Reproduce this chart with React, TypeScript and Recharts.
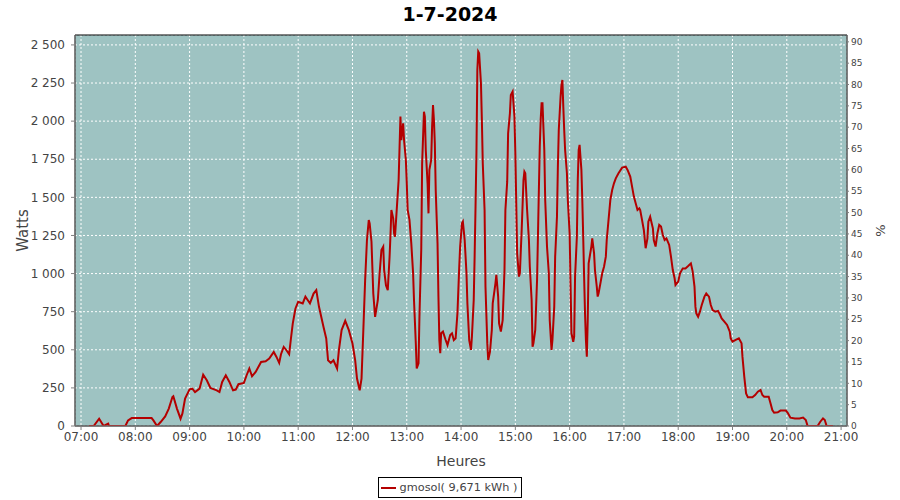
import React from 'react';
import {
  LineChart,
  Line,
  XAxis,
  YAxis,
  CartesianGrid,
  ReferenceArea,
  Label
} from 'recharts';

const title = '1-7-2024';
const seriesName = 'gmosol( 9,671 kWh )';

// heure de la mesure (HH:MM)
const times = [
  '07:09', '07:14', '07:20', '07:25', '07:30', '07:31', '07:49', '07:52', '07:56', '08:07',
  '08:18', '08:20', '08:24', '08:28', '08:33', '08:37', '08:41', '08:42', '08:46', '08:50',
  '08:52', '08:55', '09:00', '09:03', '09:06', '09:11', '09:15', '09:19', '09:23', '09:30',
  '09:33', '09:36', '09:40', '09:44', '09:48', '09:51', '09:54', '10:00', '10:03', '10:06',
  '10:09', '10:13', '10:19', '10:24', '10:28', '10:33', '10:36', '10:39', '10:41', '10:44',
  '10:47', '10:50', '10:52', '10:54', '10:57', '11:00', '11:05', '11:08', '11:13', '11:17',
  '11:20', '11:23', '11:28', '11:31', '11:33', '11:36', '11:39', '11:43', '11:45', '11:48',
  '11:52', '11:56', '12:00', '12:03', '12:05', '12:08', '12:10', '12:12', '12:14', '12:16',
  '12:18', '12:19', '12:21', '12:23', '12:25', '12:28', '12:30', '12:32', '12:34', '12:35',
  '12:37', '12:39', '12:41', '12:42', '12:43', '12:45', '12:46', '12:47', '12:49', '12:51',
  '12:53', '12:54', '12:56', '12:57', '12:59', '13:00', '13:01', '13:03', '13:05', '13:07',
  '13:08', '13:10', '13:11', '13:13', '13:14', '13:16', '13:17', '13:19', '13:20', '13:21',
  '13:23', '13:24', '13:25', '13:27', '13:28', '13:29', '13:30', '13:31', '13:32', '13:34',
  '13:35', '13:36', '13:37', '13:38', '13:40', '13:43', '13:45', '13:48', '13:50', '13:52',
  '13:54', '13:56', '13:58', '13:59', '14:01', '14:02', '14:04', '14:06', '14:07', '14:09',
  '14:11', '14:12', '14:14', '14:15', '14:16', '14:17', '14:18', '14:19', '14:20', '14:22',
  '14:23', '14:24', '14:26', '14:27', '14:29', '14:30', '14:32', '14:34', '14:35', '14:37',
  '14:38', '14:39', '14:41', '14:42', '14:44', '14:46', '14:48', '14:49', '14:51', '14:52',
  '14:54', '14:55', '14:57', '14:59', '15:00', '15:01', '15:02', '15:04', '15:05', '15:07',
  '15:09', '15:10', '15:11', '15:13', '15:15', '15:16', '15:18', '15:19', '15:20', '15:22',
  '15:24', '15:26', '15:27', '15:28', '15:29', '15:30', '15:32', '15:33', '15:35', '15:37',
  '15:38', '15:40', '15:41', '15:43', '15:44', '15:46', '15:47', '15:48', '15:50', '15:51',
  '15:52', '15:53', '15:54', '15:55', '15:57', '15:58', '16:00', '16:01', '16:02', '16:04',
  '16:05', '16:06', '16:08', '16:09', '16:10', '16:11', '16:13', '16:14', '16:15', '16:16',
  '16:17', '16:18', '16:19', '16:20', '16:21', '16:24', '16:25', '16:27', '16:28', '16:30',
  '16:31', '16:32', '16:34', '16:36', '16:38', '16:40', '16:41', '16:43', '16:45', '16:47',
  '16:49', '16:51', '16:54', '16:58', '17:02', '17:04', '17:07', '17:09', '17:11', '17:13',
  '17:15', '17:17', '17:18', '17:20', '17:22', '17:24', '17:26', '17:27', '17:29', '17:32',
  '17:33', '17:35', '17:37', '17:39', '17:41', '17:43', '17:45', '17:47', '17:50', '17:52',
  '17:54', '17:56', '17:57', '18:00', '18:02', '18:05', '18:08', '18:11', '18:14', '18:16',
  '18:18', '18:19', '18:20', '18:22', '18:24', '18:26', '18:29', '18:31', '18:34', '18:36',
  '18:38', '18:41', '18:44', '18:46', '18:48', '18:51', '18:54', '18:57', '18:58', '19:00',
  '19:03', '19:07', '19:10', '19:11', '19:13', '19:15', '19:17', '19:19', '19:22', '19:25',
  '19:28', '19:31', '19:33', '19:35', '19:38', '19:40', '19:42', '19:44', '19:46', '19:50',
  '19:53', '19:56', '19:59', '20:01', '20:04', '20:09', '20:14', '20:18', '20:21', '20:23',
  '20:29', '20:34', '20:37', '20:40', '20:42', '20:44', '20:51'
];

// puissance en Watts
const watts = [
  0, 0, 48, 0, 15, 0, 0, 37, 52, 52,
  52, 37, 0, 26, 63, 114, 190, 195, 114, 48,
  81, 180, 241, 245, 223, 245, 337, 300, 250, 234,
  223, 289, 333, 289, 234, 239, 274, 283, 333, 377,
  326, 355, 420, 425, 442, 486, 453, 414, 471, 519,
  497, 471, 574, 672, 771, 815, 804, 848, 804, 869,
  891, 782, 650, 574, 431, 414, 431, 377, 497, 629,
  690, 629, 541, 431, 311, 234, 311, 629, 957, 1220,
  1351, 1329, 1209, 869, 716, 825, 1001, 1154, 1176, 1023,
  924, 891, 1110, 1253, 1417, 1362, 1264, 1242, 1428, 1614,
  2030, 1876, 1986, 1876, 1745, 1592, 1417, 1352, 1198, 1002,
  827, 542, 378, 411, 717, 1155, 1723, 2062, 2030, 1811,
  1592, 1395, 1680, 1745, 1964, 2106, 2008, 1855, 1548, 1198,
  849, 564, 477, 608, 619, 564, 531, 597, 608, 564,
  575, 739, 1045, 1177, 1330, 1341, 1220, 1002, 805, 564,
  499, 586, 827, 1111, 1439, 1789, 2336, 2456, 2445, 2248,
  2008, 1723, 1417, 914, 542, 433, 488, 630, 805, 892,
  936, 991, 849, 674, 619, 695, 1023, 1417, 1603, 1920,
  2051, 2172, 2194, 2030, 1789, 1461, 1133, 980, 1002, 1286,
  1614, 1669, 1658, 1417, 1220, 1045, 827, 520, 542, 630,
  958, 1548, 1833, 2008, 2117, 2117, 1811, 1483, 1177, 1002,
  695, 499, 564, 783, 1111, 1373, 1701, 1942, 2161, 2237,
  2270, 2095, 1942, 1811, 1658, 1483, 1264, 936, 608, 553,
  586, 980, 1242, 1614, 1811, 1844, 1680, 1483, 1242, 980,
  739, 564, 455, 695, 1067, 1177, 1231, 1133, 1023, 914,
  849, 870, 936, 1002, 1045, 1111, 1220, 1352, 1483, 1548,
  1592, 1625, 1658, 1695, 1701, 1680, 1636, 1570, 1505, 1461,
  1417, 1428, 1417, 1352, 1286, 1166, 1231, 1341, 1373, 1297,
  1220, 1177, 1264, 1319, 1308, 1253, 1220, 1231, 1188, 1111,
  1023, 969, 925, 947, 1002, 1034, 1034, 1050, 1067, 1013,
  914, 783, 739, 717, 750, 794, 849, 870, 849, 794,
  761, 750, 755, 733, 706, 685, 663, 619, 575, 553,
  564, 575, 542, 455, 324, 214, 188, 188, 188, 203,
  225, 236, 203, 192, 192, 192, 149, 105, 87, 90,
  101, 101, 101, 87, 55, 50, 50, 55, 39, 0,
  0, 0, 28, 50, 39, 0, 0
];

const hourTicks = [7, 8, 9, 10, 11, 12, 13, 14, 15, 16, 17, 18, 19, 20, 21];
const wattTicks = [0, 250, 500, 750, 1000, 1250, 1500, 1750, 2000, 2250, 2500];
const pctTicks = [0, 5, 10, 15, 20, 25, 30, 35, 40, 45, 50, 55, 60, 65, 70, 75, 80, 85, 90];

const toHours = (s: string) => {
  const [h, m] = s.split(':').map(Number);
  return h + m / 60;
};

const data = times.map((t, i) => ({ t: toHours(t), w: watts[i] }));

const fmtHour = (v: number) => `${String(v).padStart(2, '0')}:00`;
const fmtWatts = (v: number) =>
  v >= 1000 ? `${Math.floor(v / 1000)} ${String(v % 1000).padStart(3, '0')}` : String(v);

const FONT = '"DejaVu Sans", sans-serif';
const X_DOMAIN: [number, number] = [6.889, 21.109];
const Y_DOMAIN: [number, number] = [0, 2565];

export default function App() {
  return (
    <div style={{ position: 'absolute', left: 0, top: 0, width: 900, height: 500, background: '#fff', fontFamily: FONT }}>
      <div style={{ position: 'absolute', top: 2, left: 0, width: 900, textAlign: 'center', fontSize: 19, fontWeight: 'bold', lineHeight: '24px', color: '#000' }}>
        {title}
      </div>
      <LineChart width={900} height={500} data={data} margin={{ top: 35, right: 0, bottom: 30, left: 0 }}>
        <CartesianGrid yAxisId="left" fill="#9EC3C2" stroke="#ffffff" strokeDasharray="2 2" />
        <XAxis
          dataKey="t"
          type="number"
          domain={X_DOMAIN}
          ticks={hourTicks}
          tickFormatter={fmtHour}
          allowDataOverflow
          height={44}
          tickSize={4}
          tickMargin={2}
          stroke="#808080"
          tick={{ fontSize: 12, fill: '#444', fontFamily: FONT }}
        >
          <Label value="Heures" position="insideBottom" offset={4} style={{ fontSize: 14, fill: '#444', fontFamily: FONT }} />
        </XAxis>
        <YAxis
          yAxisId="left"
          type="number"
          domain={Y_DOMAIN}
          ticks={wattTicks}
          tickFormatter={fmtWatts}
          allowDataOverflow
          width={75}
          tickSize={4}
          tickMargin={6}
          stroke="#808080"
          tick={{ fontSize: 12, fill: '#444', fontFamily: FONT }}
        >
          <Label value="Watts" angle={-90} position="center" dx={-15} style={{ fontSize: 15, fill: '#444', fontFamily: FONT }} />
        </YAxis>
        <YAxis
          yAxisId="right"
          orientation="right"
          type="number"
          domain={[0, 91.6]}
          ticks={pctTicks}
          allowDataOverflow
          width={53}
          tickSize={2}
          tickMargin={2}
          stroke="#808080"
          tick={{ fontSize: 9, fill: '#444', fontFamily: FONT }}
        >
          <Label value="%" angle={-90} position="center" dx={7} style={{ fontSize: 13, fill: '#444', fontFamily: FONT }} />
        </YAxis>
        <ReferenceArea
          yAxisId="left"
          x1={X_DOMAIN[0]}
          x2={X_DOMAIN[1]}
          y1={Y_DOMAIN[0]}
          y2={Y_DOMAIN[1]}
          fill="none"
          stroke="#000"
          strokeWidth={1}
          ifOverflow="visible"
        />
        <Line
          yAxisId="left"
          type="linear"
          dataKey="w"
          stroke="#B40000"
          strokeWidth={2}
          dot={false}
          isAnimationActive={false}
        />
      </LineChart>
      <div style={{ position: 'absolute', top: 477, left: 0, width: 900, display: 'flex', justifyContent: 'center' }}>
        <div style={{ border: '1px solid #000', display: 'flex', alignItems: 'center', padding: '0 4px 0 2px', height: 19, fontSize: 11.3, color: '#444', fontFamily: FONT }}>
          <span style={{ display: 'inline-block', width: 15, height: 2, background: '#B40000', marginRight: 4 }} />
          {seriesName}
        </div>
      </div>
    </div>
  );
}
